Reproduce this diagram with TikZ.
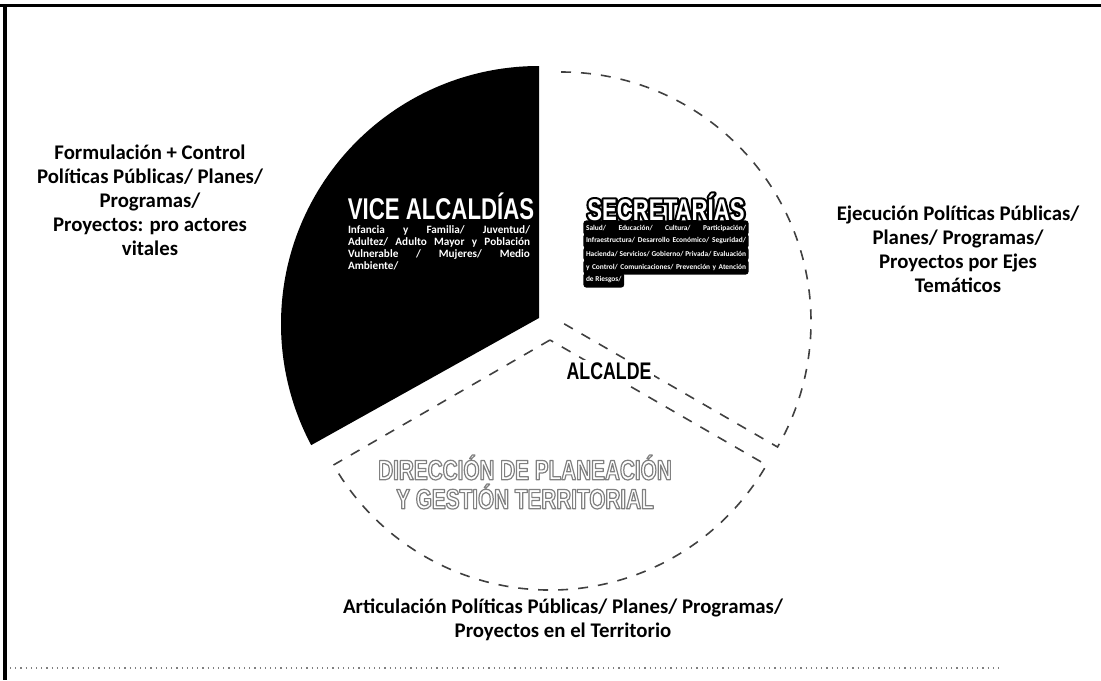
\documentclass[tikz,border=0pt]{standalone}
\usepackage{fontspec}
\setmainfont{Carlito}
\newfontfamily\headfont{Liberation Sans}[FakeStretch=0.74]
\usetikzlibrary{calc}
% stroked-outline text: #1 stroke gray level, #2 line width, #3 render mode, #4 text
\newcommand\outl[4]{\special{pdf:literal direct #1 G #2 w 1 j #3 Tr}#4\special{pdf:literal direct 0 Tr}}
\tikzset{
  outer/.style={font=\bfseries\fontsize{10.4}{12}\selectfont, align=center, inner sep=0pt},
  head/.style={font=\headfont\bfseries\fontsize{15}{16}\selectfont, inner sep=0pt},
  sector/.style={draw=black!75, dash pattern=on 5pt off 5pt, line width=0.8pt},
  small/.style={inner sep=0pt, font=\bfseries},
  sline/.style={anchor=west, fill=black, text=white, rounded corners=1.5pt, inner xsep=1.3pt, inner ysep=2.2pt,
    font=\bfseries\fontsize{3.7}{4}\selectfont},
}
\newcommand\fl[1]{\makebox[80pt][s]{#1}}
\begin{document}
\begin{tikzpicture}[x=0.5pt,y=0.5pt]
\useasboundingbox (0,0) rectangle (1101,-680);
% frame
\draw[line width=1.5pt] (0,-5) -- (1101,-5);
\draw[line width=2pt] (5,-4) -- (5,-680);
\draw[dotted, black!50, line width=0.6pt] (10,-668) -- (1000,-668);
% sectors
\coordinate (apexR) at (561,-322);
\coordinate (apexB) at (550,-340);
\coordinate (apexV) at (539,-318);
\coordinate (topR) at ($(apexR)+(90:250)$);
\draw[sector] (topR) arc[start angle=90,end angle=-30,radius=250] -- (apexR);
\draw[sector] (apexB) -- ++(210:250) arc[start angle=210,end angle=330,radius=250] -- cycle;
\fill[black] (apexV) -- ++(90:252) arc[start angle=90,end angle=208,radius=258] -- cycle;
% VICE ALCALDIAS
\node[head, text=white] (vice) at (441,-206) {VICE ALCALDÍAS};
\node[small, text=white, anchor=north] (vicetxt) at (439,-225)
  {\parbox{91pt}{\fontsize{5.6}{6}\selectfont Infancia y Familia/ Juventud/\linebreak Adultez/ Adulto Mayor y Población\linebreak Vulnerable / Mujeres/ Medio\linebreak Ambiente/}};
% SECRETARIAS
\node[sline] (s1) at (583,-228) {\fl{Salud/ Educación/ Cultura/ Participación/}};
\node[sline] (s2) at (583,-241) {\fl{Infraestructura/ Desarrollo Económico/ Seguridad/}};
\node[sline] (s3) at (583,-254) {\fl{Hacienda/ Servicios/ Gobierno/ Privada/ Evaluación}};
\node[sline] (s4) at (583,-267) {\fl{y Control/ Comunicaciones/ Prevención y Atención}};
\node[sline] (s5) at (583,-280) {de Riesgos/};
\node[head, text=black] (secbg) at (666,-207) {\outl{0}{2.2}{1}{SECRETARÍAS}};
\node[head, text=white] (sec) at (666,-207) {SECRETARÍAS};
% bottom sector
\node[head, font=\headfont\bfseries\fontsize{14}{14.5}\selectfont, align=center, text=white] (terr) at (525,-482)
  {\outl{0.5}{0.6}{2}{DIRECCIÓN DE PLANEACIÓN}\\\outl{0.5}{0.6}{2}{Y GESTIÓN TERRITORIAL}};
% ALCALDE
\node[head, font=\headfont\bfseries\fontsize{12}{13}\selectfont, fill=white, inner sep=1.5pt] (alc) at (609,-371) {ALCALDE};
% outer labels
\node[outer] (form) at (150,-200) {Formulación + Control\\Políticas Públicas/ Planes/\\Programas/\\Proyectos: pro actores\\vitales};
\node[outer] (ejec) at (958,-249) {Ejecución Políticas Públicas/\\Planes/ Programas/\\Proyectos por Ejes\\Temáticos};
\node[outer] (art) at (563,-620) {Articulación Políticas Públicas/ Planes/ Programas/\\Proyectos en el Territorio};
\end{tikzpicture}
\end{document}
